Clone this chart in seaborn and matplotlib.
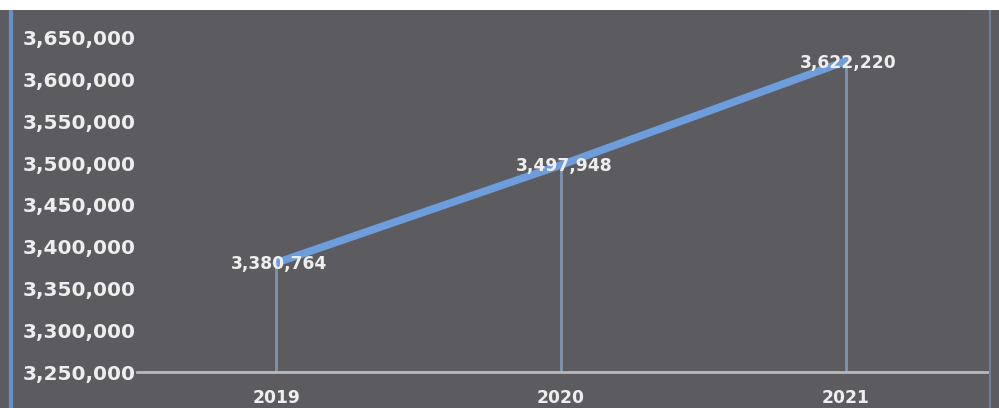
import pandas as pd
import matplotlib.pyplot as plt
import seaborn as sns
from matplotlib.ticker import FuncFormatter, MultipleLocator
from matplotlib.patches import Rectangle
from matplotlib.lines import Line2D

# Дані
years = ["2019", "2020", "2021"]
values = [3380764, 3497948, 3622220]

BG = "#5c5c60"
LINE_COLOR = "#6e9ddc"
DROP_COLOR = "#7d95b4"
TEXT_COLOR = "#eeeeee"

sns.set_theme(style="dark")
plt.rcParams['font.family'] = ['DejaVu Sans']

df = pd.DataFrame({"year": years, "value": values})

fig = plt.figure(figsize=(9.99, 4.08), dpi=100, facecolor=BG)
ax = fig.add_axes([0.137, 0.0882, 0.852, 0.8873])
ax.set_facecolor(BG)

# вертикальні лінії від точок до осі
ax.vlines(df["year"], 3250000, df["value"], color=DROP_COLOR, linewidth=2, zorder=2)

sns.lineplot(data=df, x="year", y="value", ax=ax, color=LINE_COLOR,
             linewidth=5.5, sort=False, zorder=3)

for yr, v in zip(df["year"], df["value"]):
    ax.annotate(f"{v:,}", (yr, v), xytext=(2, -1), textcoords="offset points",
                ha="center", va="center", color=TEXT_COLOR,
                fontsize=12.3, fontweight="bold", zorder=4)

ax.set_xlim(-0.49, 2.5)
ax.set_ylim(3250000, 3683500)
ax.yaxis.set_major_locator(MultipleLocator(50000))
ax.yaxis.set_major_formatter(FuncFormatter(lambda v, p: f"{int(v):,}"))

ax.set_xlabel("")
ax.set_ylabel("")
ax.grid(False)
for s in ["top", "right", "left"]:
    ax.spines[s].set_visible(False)
ax.spines["bottom"].set_color("#b9b9bb")
ax.spines["bottom"].set_linewidth(2)

ax.tick_params(axis="y", length=0, pad=1, labelsize=14.5, labelcolor=TEXT_COLOR)
ax.tick_params(axis="x", length=0, pad=12, labelsize=12.3, labelcolor=TEXT_COLOR)
for lbl in ax.get_xticklabels() + ax.get_yticklabels():
    lbl.set_fontweight("bold")

# рамка: біла смуга зверху, сині лінії по краях
fig.patches.append(Rectangle((0, 0.9755), 1, 0.0245, transform=fig.transFigure,
                             facecolor="white", edgecolor="none", zorder=5))
fig.lines.append(Line2D([0.011, 0.011], [0, 0.9755], transform=fig.transFigure,
                        color="#6a8fc8", linewidth=3))
fig.lines.append(Line2D([0.991, 0.991], [0, 0.9755], transform=fig.transFigure,
                        color="#6d7f9a", linewidth=1.5))

plt.savefig("out.png", dpi=100, facecolor=BG)
plt.close()
